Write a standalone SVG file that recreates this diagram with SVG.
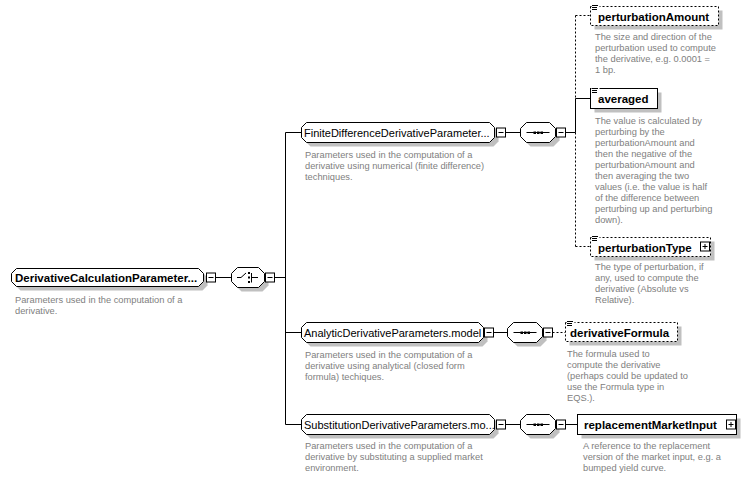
<svg xmlns="http://www.w3.org/2000/svg" width="748" height="479" viewBox="0 0 748 479">
<style>
.bg{fill:#ffffff}
.sh{fill:#c0c0c0;stroke:none}
.box{fill:#ffffff;stroke:#000000;stroke-width:1}
.dbox{fill:#ffffff;stroke:#000000;stroke-width:1;stroke-dasharray:2,2}
.ln{stroke:#000000;stroke-width:1;fill:none}
.dl{stroke:#000000;stroke-width:1;fill:none;stroke-dasharray:2,2}
.nm{font-family:"Liberation Sans",Arial,sans-serif;font-size:11px;fill:#000000}
.bn{font-family:"Liberation Sans",Arial,sans-serif;font-size:11.5px;font-weight:bold;fill:#000000}
.ds{font-family:"Liberation Sans",Arial,sans-serif;font-size:9.3px;fill:#808080}
</style>
<defs>
<g id="minus"><rect x="0" y="-0.5" width="9" height="9" class="box"/><path d="M2,4H7" class="ln"/></g>
<g id="plus"><rect x="0" y="-0.5" width="9" height="9" class="box"/><path d="M2,4H7M4.5,1.5V6.5" class="ln"/></g>
<g id="doc"><rect x="-0.5" y="-1" width="8" height="6" fill="#ffffff"/><path d="M0,0.5H6M0,2.5H5M0,4.5H5" class="ln"/></g>
<g id="seqicon"><path d="M6,0H29" class="ln"/><rect x="13" y="-1" width="2.5" height="2.5" fill="#000"/><rect x="16.5" y="-1" width="2.5" height="2.5" fill="#000"/><rect x="20" y="-1" width="2.5" height="2.5" fill="#000"/></g>
</defs>
<rect width="748" height="479" class="bg"/>

<g id="connectors">
<path d="M203.5,277.5H231.5M264.5,277.5H285.5" class="ln"/>
<path d="M285.5,132.5V424.5" class="ln"/>
<path d="M285.5,132.5H301.5M285.5,332.5H301.5M285.5,424.5H301.5" class="ln"/>
<path d="M494.5,132.5H520.5M555.5,132.5H575.5" class="ln"/>
<path d="M575.5,15.5V98.5" class="dl"/>
<path d="M575.5,98.5V132.5" class="ln"/>
<path d="M575.5,132.5V246.5" class="dl"/>
<path d="M575.5,15.5H590.5" class="dl"/>
<path d="M575.5,98.5H590.5" class="ln"/>
<path d="M575.5,246.5H590.5" class="dl"/>
<path d="M483.5,332.5H507.5" class="ln"/>
<path d="M542.5,332.5H552.5" class="ln"/>
<path d="M552.5,332.5H565.5" class="dl"/>
<path d="M494.5,424.5H520.5M555.5,424.5H577.5" class="ln"/>
</g>

<g id="root">
<path d="M20.5,272.5H202.5L207.5,277.5V285.5L202.5,290.5H20.5L15.5,285.5V277.5Z" class="sh"/>
<path d="M16.5,268.5H198.5L203.5,273.5V281.5L198.5,286.5H16.5L11.5,281.5V273.5Z" class="box"/>
<text x="15" y="282" class="bn">DerivativeCalculationParameter...</text>
<use href="#minus" x="206.5" y="273.5"/>
<text class="ds"><tspan x="15" y="303">Parameters used in the computation of a</tspan><tspan x="15" y="314">derivative.</tspan></text>
</g>

<g id="choice">
<path d="M241.5,271.5H262.5L268.5,277.5V285.5L262.5,291.5H241.5L235.5,285.5V277.5Z" class="sh"/>
<path d="M237.5,267.5H258.5L264.5,273.5V281.5L258.5,287.5H237.5L231.5,281.5V273.5Z" class="box"/>
<path d="M237,277.5H241L246,273" class="ln"/>
<rect x="248" y="272" width="2" height="2" fill="#000"/>
<rect x="248" y="276.5" width="2" height="2" fill="#000"/>
<rect x="248" y="281" width="2" height="2" fill="#000"/>
<path d="M251.5,273V282.5M251.5,277.5H258" class="ln"/>
<use href="#minus" x="265.5" y="273.5"/>
</g>

<g id="finite">
<path d="M310.5,126.5H493.5L498.5,131.5V141.5L493.5,146.5H310.5L305.5,141.5V131.5Z" class="sh"/>
<path d="M306.5,122.5H489.5L494.5,127.5V137.5L489.5,142.5H306.5L301.5,137.5V127.5Z" class="box"/>
<text x="304" y="136.5" class="nm">FiniteDifferenceDerivativeParameter...</text>
<use href="#minus" x="496.5" y="128.5"/>
<text class="ds"><tspan x="305" y="158">Parameters used in the computation of a</tspan><tspan x="305" y="169">derivative using numerical (finite difference)</tspan><tspan x="305" y="180">techniques.</tspan></text>
</g>

<g id="finite-seq">
<path d="M530.5,126.5H553.5L559.5,132.5V140.5L553.5,146.5H530.5L524.5,140.5V132.5Z" class="sh"/>
<path d="M526.5,122.5H549.5L555.5,128.5V136.5L549.5,142.5H526.5L520.5,136.5V128.5Z" class="box"/>
<use href="#seqicon" x="520.5" y="132.5"/>
<use href="#minus" x="556.5" y="128.5"/>
</g>

<g id="perturbationAmount">
<rect x="594.5" y="10.5" width="128" height="19" class="sh"/>
<rect x="590.5" y="6.5" width="128" height="19" class="dbox"/>
<use href="#doc" x="592" y="5"/>
<text x="598" y="20.5" class="bn">perturbationAmount</text>
<text class="ds"><tspan x="595" y="40">The size and direction of the</tspan><tspan x="595" y="51">perturbation used to compute</tspan><tspan x="595" y="62">the derivative, e.g. 0.0001 =</tspan><tspan x="595" y="73">1 bp.</tspan></text>
</g>

<g id="averaged">
<rect x="594.5" y="92.5" width="67" height="20" class="sh"/>
<rect x="590.5" y="88.5" width="67" height="20" class="box"/>
<use href="#doc" x="592" y="88"/>
<text x="598" y="103" class="bn">averaged</text>
<text class="ds"><tspan x="595" y="124">The value is calculated by</tspan><tspan x="595" y="135">perturbing by the</tspan><tspan x="595" y="146">perturbationAmount and</tspan><tspan x="595" y="157">then the negative of the</tspan><tspan x="595" y="168">perturbationAmount and</tspan><tspan x="595" y="179">then averaging the two</tspan><tspan x="595" y="190">values (i.e. the value is half</tspan><tspan x="595" y="201">of the difference between</tspan><tspan x="595" y="212">perturbing up and perturbing</tspan><tspan x="595" y="223">down).</tspan></text>
</g>

<g id="perturbationType">
<rect x="594.5" y="241.5" width="120" height="19" class="sh"/>
<rect x="590.5" y="237.5" width="120" height="19" class="dbox"/>
<use href="#doc" x="592" y="236"/>
<text x="598" y="251.5" class="bn">perturbationType</text>
<use href="#plus" x="700.5" y="242.5"/>
<text class="ds"><tspan x="595" y="270">The type of perturbation, if</tspan><tspan x="595" y="281">any, used to compute the</tspan><tspan x="595" y="292">derivative (Absolute vs</tspan><tspan x="595" y="303">Relative).</tspan></text>
</g>

<g id="analytic">
<path d="M310.5,326.5H482.5L487.5,331.5V341.5L482.5,346.5H310.5L305.5,341.5V331.5Z" class="sh"/>
<path d="M306.5,322.5H478.5L483.5,327.5V337.5L478.5,342.5H306.5L301.5,337.5V327.5Z" class="box"/>
<text x="304" y="336.5" class="nm">AnalyticDerivativeParameters.model</text>
<use href="#minus" x="484.5" y="328.5"/>
<text class="ds"><tspan x="305" y="358">Parameters used in the computation of a</tspan><tspan x="305" y="369">derivative using analytical (closed form</tspan><tspan x="305" y="380">formula) techiques.</tspan></text>
</g>

<g id="analytic-seq">
<path d="M517.5,326.5H540.5L546.5,332.5V340.5L540.5,346.5H517.5L511.5,340.5V332.5Z" class="sh"/>
<path d="M513.5,322.5H536.5L542.5,328.5V336.5L536.5,342.5H513.5L507.5,336.5V328.5Z" class="box"/>
<use href="#seqicon" x="507.5" y="332.5"/>
<use href="#minus" x="543.5" y="328.5"/>
</g>

<g id="derivativeFormula">
<rect x="569.5" y="326.5" width="112" height="19" class="sh"/>
<rect x="565.5" y="322.5" width="112" height="19" class="dbox"/>
<use href="#doc" x="567" y="321"/>
<text x="570" y="336.5" class="bn">derivativeFormula</text>
<text class="ds"><tspan x="567" y="357">The formula used to</tspan><tspan x="567" y="368">compute the derivative</tspan><tspan x="567" y="379">(perhaps could be updated to</tspan><tspan x="567" y="390">use the Formula type in</tspan><tspan x="567" y="401">EQS.).</tspan></text>
</g>

<g id="substitution">
<path d="M310.5,418.5H493.5L498.5,423.5V433.5L493.5,438.5H310.5L305.5,433.5V423.5Z" class="sh"/>
<path d="M306.5,414.5H489.5L494.5,419.5V429.5L489.5,434.5H306.5L301.5,429.5V419.5Z" class="box"/>
<text x="304" y="428.5" class="nm">SubstitutionDerivativeParameters.mo...</text>
<use href="#minus" x="496.5" y="420.5"/>
<text class="ds"><tspan x="305" y="449">Parameters used in the computation of a</tspan><tspan x="305" y="460">derivative by substituting a supplied market</tspan><tspan x="305" y="471">environment.</tspan></text>
</g>

<g id="substitution-seq">
<path d="M530.5,418.5H553.5L559.5,424.5V432.5L553.5,438.5H530.5L524.5,432.5V424.5Z" class="sh"/>
<path d="M526.5,414.5H549.5L555.5,420.5V428.5L549.5,434.5H526.5L520.5,428.5V420.5Z" class="box"/>
<use href="#seqicon" x="520.5" y="424.5"/>
<use href="#minus" x="556.5" y="420.5"/>
</g>

<g id="replacementMarketInput">
<rect x="581.5" y="418.5" width="159" height="20" class="sh"/>
<rect x="577.5" y="414.5" width="159" height="20" class="box"/>
<text x="584" y="429" class="bn">replacementMarketInput</text>
<use href="#plus" x="726.5" y="420.5"/>
<text class="ds"><tspan x="583" y="449">A reference to the replacement</tspan><tspan x="583" y="460">version of the market input, e.g. a</tspan><tspan x="583" y="471">bumped yield curve.</tspan></text>
</g>
</svg>
